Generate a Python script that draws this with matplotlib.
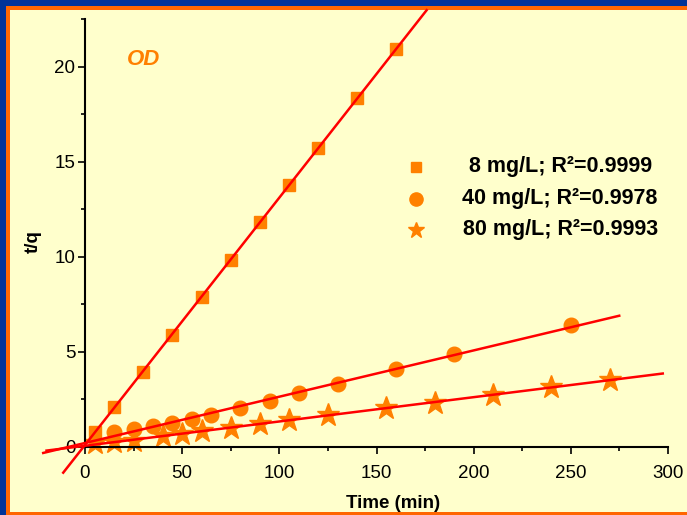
import matplotlib.pyplot as plt
import matplotlib.patches as patches
import numpy as np

# t/q vs time
t_8 = [5, 15, 30, 45, 60, 75, 90, 105, 120, 140, 160]
tq_8 = [0.79, 2.10, 3.95, 5.88, 7.89, 9.84, 11.81, 13.77, 15.70, 18.34, 20.93]

t_40 = [15, 25, 35, 45, 55, 65, 80, 95, 110, 130, 160, 190, 250]
tq_40 = [0.75, 0.92, 1.09, 1.27, 1.47, 1.68, 2.06, 2.42, 2.81, 3.30, 4.07, 4.86, 6.41]

t_80 = [5, 15, 25, 40, 50, 60, 75, 90, 105, 125, 155, 180, 210, 240, 270]
tq_80 = [0.18, 0.24, 0.31, 0.55, 0.68, 0.82, 0.99, 1.19, 1.41, 1.67, 2.05, 2.32, 2.72, 3.13, 3.51]

labels = ['8 mg/L; R\u00b2=0.9999', '40 mg/L; R\u00b2=0.9978', '80 mg/L; R\u00b2=0.9993']
fit_range = [(-11.2, 175.8), (-21.5, 274.9), (-19.8, 297.3)]

plt.rcParams['font.family'] = ['Liberation Sans', 'DejaVu Sans']

W, H = 687, 515
fig = plt.figure(figsize=(W / 100, H / 100), dpi=100)
fig.patch.set_facecolor('#ffffcc')


def band(x, y, w, h, color):
    # pixel rectangle on the figure, origin at bottom left
    fig.add_artist(patches.Rectangle((x / W, y / H), w / W, h / H, transform=fig.transFigure,
                                     facecolor=color, edgecolor='none', zorder=-1))


# blue slide border (left, top) and orange frame (left, top, bottom)
band(0, 0, 6, H, '#003399')
band(0, H - 6, W, 6, '#003399')
band(6, 0, 4, H - 6, '#ff6600')
band(6, H - 10, W - 6, 4, '#ff6600')
band(6, 0, W - 6, 3, '#ff6600')

ax = fig.add_axes([85 / W, 68.3 / H, 583 / W, 427.5 / H])
ax.set_facecolor('none')

orange = '#ff8000'
series = [(t_8, tq_8, 's', 9), (t_40, tq_40, 'o', 10.5), (t_80, tq_80, '*', 17)]

for (t, tq, m, ms), (x0, x1) in zip(series, fit_range):
    slope, icpt = np.polyfit(t, tq, 1)
    xx = np.array([x0, x1])
    ax.plot(xx, icpt + slope * xx, color='red', lw=1.8, clip_on=False, zorder=3)

for t, tq, m, ms in series[::-1]:
    ax.plot(t, tq, linestyle='none', marker=m, ms=ms, color=orange, mec=orange,
            clip_on=False, zorder=2)

ax.set_xlim(0, 300)
ax.set_ylim(0, 22.5)
ax.set_xticks([0, 50, 100, 150, 200, 250, 300])
ax.set_xticks(np.arange(25, 300, 50), minor=True)
ax.set_yticks([0, 5, 10, 15, 20])
ax.set_yticks(np.arange(2.5, 23, 5), minor=True)

for s in ['top', 'right']:
    ax.spines[s].set_visible(False)
for s in ['left', 'bottom']:
    ax.spines[s].set_linewidth(1.5)

ax.tick_params(which='major', length=5, width=1.2, labelsize=13.5, pad=2)
ax.tick_params(axis='x', which='major', pad=8.5)
ax.tick_params(which='minor', length=3, width=1.2)

ax.set_xlabel('Time (min)', fontsize=13.5, fontweight='bold')
ax.xaxis.set_label_coords(0.528, -0.113)
ax.set_ylabel('t/q', fontsize=13.5, fontweight='bold')
ax.yaxis.set_label_coords(-0.074, 0.479)

ax.text(0.10, 0.905, 'OD', transform=ax.transAxes, color=orange, fontsize=16,
        fontweight='bold', fontstyle='italic', ha='center', va='center')

# hand-placed legend
leg_y = [0.655, 0.580, 0.507]
leg_ms = [7.5, 9.5, 12]
for (t, tq, m, ms), y, lms, lab in zip(series, leg_y, leg_ms, labels):
    ax.plot([0.567], [y], transform=ax.transAxes, marker=m, ms=lms, color=orange,
            linestyle='none', clip_on=False)
    ax.text(0.815, y, lab, transform=ax.transAxes, fontsize=15.5, fontweight='bold',
            ha='center', va='center')

fig.savefig('out.png', dpi=100, facecolor=fig.get_facecolor())
